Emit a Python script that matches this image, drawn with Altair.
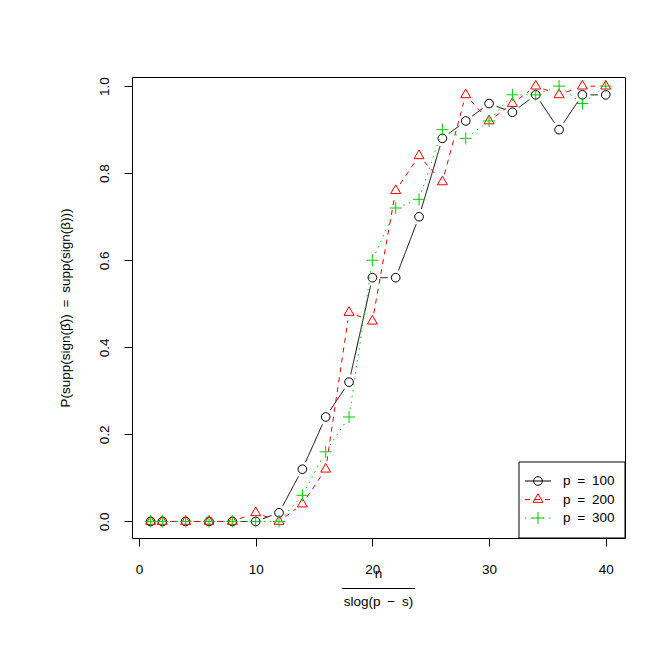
import altair as alt
import pandas as pd

# ---- data ----
n_vals = [1, 2, 4, 6, 8, 10, 12, 14, 16, 18, 20, 22, 24, 26, 28, 30, 32, 34, 36, 38, 40]
p100 = [0, 0, 0, 0, 0, 0, 0.02, 0.12, 0.24, 0.32, 0.56, 0.56, 0.70, 0.88, 0.92, 0.96, 0.94, 0.98, 0.90, 0.98, 0.98]
p200 = [0, 0, 0, 0, 0, 0.02, 0, 0.04, 0.12, 0.48, 0.46, 0.76, 0.84, 0.78, 0.98, 0.92, 0.96, 1.0, 0.98, 1.0, 1.0]
p300 = [0, 0, 0, 0, 0, 0, 0, 0.06, 0.16, 0.24, 0.60, 0.72, 0.74, 0.90, 0.88, 0.92, 0.98, 0.98, 1.0, 0.96, 1.0]
series_labels = ["p\u2002=\u2002100", "p\u2002=\u2002200", "p\u2002=\u2002300"]
x_ticks = [0, 10, 20, 30, 40]
y_ticks = [0, 0.2, 0.4, 0.6, 0.8, 1.0]
y_title = "P(supp(sign(\u03b2\u0302))\u2002=\u2002supp(sign(\u03b2)))"
x_title_num = "n"
x_title_den = "slog(p\u2002\u2212\u2002s)"

# ---- styles ----
FONT = "Liberation Sans"
FS = 13.5
W, H = 493, 461
XDOM = [-0.6, 41.65]
YDOM = [-0.038, 1.021]
KX = W / (XDOM[1] - XDOM[0])
KY = H / (YDOM[1] - YDOM[0])
GAP = 8
colors = ["#000000", "#FF0000", "#00CD00"]
dashes = [[1, 0], [5, 5], [1.5, 4.5]]
shapes = ["circle", "M0,-1L0.866,0.5L-0.866,0.5Z", "M-1,0H1M0,-1V1"]
sizes = [75, 133, 144]

rows = []
for lab, vals in zip(series_labels, [p100, p200, p300]):
    for xv, yv in zip(n_vals, vals):
        rows.append({"x": xv, "prob": yv, "series": lab})
df = pd.DataFrame(rows)

xscale = alt.Scale(domain=XDOM, nice=False, zero=False)
yscale = alt.Scale(domain=YDOM, nice=False, zero=False)
xaxis = alt.Axis(values=x_ticks, title=None, format="d")
yaxis = alt.Axis(values=y_ticks, format=".1f", title=y_title,
                 titleX=-67, titleY=H / 2, titleAngle=270,
                 titleAlign="center", titleBaseline="middle",
                 titleFont=FONT, titleFontSize=FS, titleFontWeight="normal",
                 titleColor="black",
                 labelAngle=270, labelAlign="center", labelBaseline="alphabetic")

layers = []
base = alt.Chart(df)
for i, lab in enumerate(series_labels):
    seg = base.transform_filter(
        alt.datum.series == lab
    ).transform_window(
        window=[alt.WindowFieldDef(op="lead", field="x", **{"as": "xn"}),
                alt.WindowFieldDef(op="lead", field="prob", **{"as": "yn"})],
        sort=[alt.SortField("x")]
    ).transform_filter(
        "isValid(datum.xn)"
    ).transform_calculate(
        dxp=f"(datum.xn - datum.x) * {KX}",
        dyp=f"(datum.yn - datum.prob) * {KY}",
    ).transform_calculate(
        L="sqrt(datum.dxp * datum.dxp + datum.dyp * datum.dyp)"
    ).transform_filter(
        f"datum.L > {2 * GAP}"
    ).transform_calculate(
        xs=f"datum.x + (datum.xn - datum.x) * {GAP} / datum.L",
        xe=f"datum.xn - (datum.xn - datum.x) * {GAP} / datum.L",
        ys=f"datum.prob + (datum.yn - datum.prob) * {GAP} / datum.L",
        ye=f"datum.yn - (datum.yn - datum.prob) * {GAP} / datum.L",
    ).mark_rule(
        color=colors[i], strokeWidth=1, strokeDash=dashes[i]
    ).encode(
        x=alt.X("xs:Q", scale=xscale, axis=xaxis),
        x2="xe:Q",
        y=alt.Y("ys:Q", scale=yscale, axis=yaxis),
        y2="ye:Q",
    )
    pts = base.transform_filter(
        alt.datum.series == lab
    ).mark_point(
        shape=shapes[i], size=sizes[i], filled=False, color=colors[i],
        strokeWidth=1, opacity=1
    ).encode(
        x=alt.X("x:Q", scale=xscale, axis=xaxis),
        y=alt.Y("prob:Q", scale=yscale, axis=yaxis),
    )
    layers += [seg, pts]

# ---- x-axis title as a fraction ----
num = alt.Chart(pd.DataFrame({"t": [x_title_num]})).mark_text(
    font=FONT, fontSize=FS, baseline="middle", align="center", color="black"
).encode(x=alt.value(W / 2), y=alt.value(497), text="t:N")
bar = alt.Chart(pd.DataFrame({"t": [0]})).mark_rule(color="black", strokeWidth=1).encode(
    x=alt.value(210), x2=alt.value(283), y=alt.value(511.5))
den = alt.Chart(pd.DataFrame({"t": [x_title_den]})).mark_text(
    font=FONT, fontSize=FS, baseline="middle", align="center", color="black"
).encode(x=alt.value(W / 2), y=alt.value(525), text="t:N")
layers += [num, bar, den]

# ---- legend ----
box = alt.Chart(pd.DataFrame({"t": [0]})).mark_rect(
    fill="white", stroke="black", strokeWidth=1
).encode(x=alt.value(387), x2=alt.value(W), y=alt.value(385), y2=alt.value(H))
layers.append(box)
row_y = [404, 422.5, 441]
for i, lab in enumerate(series_labels):
    d = pd.DataFrame({"t": [lab]})
    layers.append(alt.Chart(d).mark_rule(color=colors[i], strokeWidth=1, strokeDash=dashes[i]).encode(
        x=alt.value(393), x2=alt.value(419), y=alt.value(row_y[i])))
    layers.append(alt.Chart(d).mark_point(shape=shapes[i], size=sizes[i], filled=False,
                                          color=colors[i], strokeWidth=1, opacity=1).encode(
        x=alt.value(406), y=alt.value(row_y[i])))
    layers.append(alt.Chart(d).mark_text(font=FONT, fontSize=FS, align="left", baseline="middle",
                                         color="black").encode(
        x=alt.value(431), y=alt.value(row_y[i]), text="t:N"))

chart = alt.layer(*layers).properties(
    width=W, height=H,
    autosize=alt.AutoSizeParams(type="none"),
    padding={"left": 124, "top": 69, "right": 30, "bottom": 90},
).configure_view(
    stroke="black", strokeWidth=1
).configure_axis(
    domain=False, grid=False, ticks=True, tickSize=8, tickColor="black", tickWidth=1,
    labelFont=FONT, labelFontSize=FS, labelColor="black", labelPadding=16,
)

chart.save("out.html", embed_options={"renderer": "svg", "actions": False})
